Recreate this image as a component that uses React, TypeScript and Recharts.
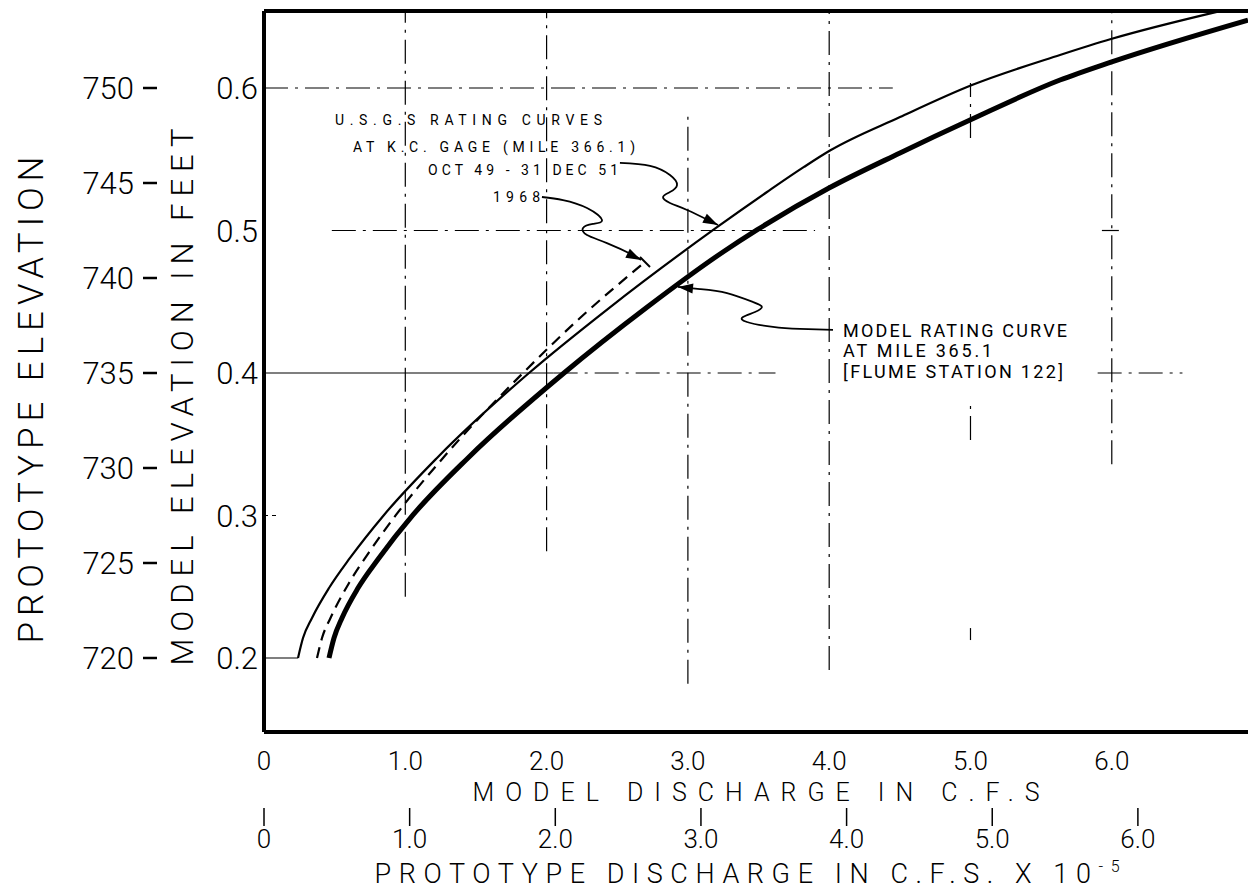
import React from 'react';
import { ComposedChart, Line, XAxis, YAxis, ReferenceLine, ReferenceDot } from 'recharts';

const FONT = "Roboto, 'DejaVu Sans', Arial, sans-serif";
const W = 1248;
const H = 891;

// ---- axes ----
const modelDischargeTicks = [0, 1, 2, 3, 4, 5, 6];
const prototypeDischargeTicks = [0, 1, 2, 3, 4, 5, 6];
const modelElevationTicks = [0.2, 0.3, 0.4, 0.5, 0.6];
const prototypeElevationTicks = [720, 725, 730, 735, 740, 745, 750];
const modelDischargeDomain = [0, 6.964];
const prototypeDischargeDomain = [0, 6.756];
const modelElevationDomain = [0.14807, 0.65404];
const prototypeElevationDomain = [716.105, 754.053];

// ---- series (model discharge cfs, model elevation ft) ----
const usgs1951Q = [0.2406, 0.276, 0.3397, 0.46, 0.6086, 0.8493, 1.2243, 1.8754, 2.4416, 3.1989, 3.5598, 3.8217, 4.0057, 4.5011, 5.0106, 5.6334, 5.9943, 6.7657];
const usgs1951H = [0.2, 0.214, 0.2281, 0.2491, 0.2702, 0.3004, 0.3404, 0.4, 0.4456, 0.5018, 0.527, 0.5446, 0.5561, 0.5796, 0.6021, 0.6232, 0.6344, 0.654];

const usgs1968Q = [0.3751, 0.4105, 0.4706, 0.6016, 0.7643, 0.9342, 1.2668, 1.833, 2.2364, 2.6964];
const usgs1968H = [0.2, 0.214, 0.2281, 0.2526, 0.2772, 0.3004, 0.3404, 0.4, 0.4386, 0.4779];

const modelQ = [0.46, 0.4954, 0.552, 0.6653, 0.8139, 1.0545, 1.4437, 2.1231, 2.7035, 3.2484, 3.489, 3.9986, 4.5011, 4.9965, 5.6334, 5.9943, 6.9639];
const modelH = [0.2, 0.214, 0.2281, 0.2491, 0.2702, 0.3004, 0.3404, 0.4, 0.4456, 0.4849, 0.5004, 0.5298, 0.5544, 0.5775, 0.6056, 0.6182, 0.6477];

// ---- leader lines of the annotations ----
const leader1951Q = [2.519, 2.732, 2.873, 2.923, 2.873, 2.824, 2.873, 2.994, 3.156, 3.213];
const leader1951H = [0.5474, 0.5453, 0.5389, 0.5319, 0.527, 0.5235, 0.5193, 0.5144, 0.5067, 0.5039];
const leader1968Q = [1.967, 2.116, 2.286, 2.392, 2.328, 2.258, 2.286, 2.427, 2.611, 2.668];
const leader1968H = [0.5235, 0.5214, 0.5158, 0.5074, 0.5046, 0.5018, 0.4968, 0.4912, 0.4828, 0.4793];
const leaderModelQ = [4.027, 3.793, 3.602, 3.418, 3.39, 3.475, 3.524, 3.461, 3.277, 3.086, 2.93];
const leaderModelH = [0.4302, 0.4309, 0.4323, 0.4358, 0.4393, 0.4428, 0.4463, 0.4498, 0.4561, 0.4589, 0.4604];

// ---- annotation texts ----
const noteTexts = ['U.S.G.S  RATING  CURVES', 'AT  K.C. GAGE (MILE 366.1)', 'OCT 49 - 31 DEC 51', '1968', 'MODEL  RATING  CURVE', 'AT  MILE  365.1', '[FLUME  STATION 122]'];
const noteQ = [0.5025, 0.63, 1.161, 1.621, 4.098, 4.098, 4.098];
const noteH = [0.574, 0.5551, 0.5389, 0.52, 0.4253, 0.4112, 0.3965];
const noteSize = [14, 14, 14, 14, 18, 18, 18];
const noteLen = [267, 282, 190, 47, 224, 149, 220];

// ---- arrow heads ----
const arrowQ = [3.213, 2.668, 2.93];
const arrowH = [0.5039, 0.4793, 0.4604];
const arrowAngle = [26.6, 26.6, 185.7];

// ---- grid segments (dash-dot drafting grid) ----
const DASHDOT = '24 7 3 7';
const hGridH = [0.6, 0.5, 0.5, 0.4, 0.4, 0.4, 0.3, 0.2];
const hGridFrom = [0, 0.48, 5.93, 0, 2.05, 5.9, 0, 0];
const hGridTo = [4.45, 3.9, 6.05, 2.05, 3.62, 6.5, 0.1, 0.2406];
const hGridDash = [DASHDOT, DASHDOT, '', '', DASHDOT, DASHDOT, '4 4', ''];
const vGridQ = [1, 2, 3, 4, 5, 5, 5, 6];
const vGridFrom = [0.243, 0.275, 0.182, 0.1916, 0.565, 0.353, 0.2126, 0.336];
const vGridTo = [0.654, 0.654, 0.581, 0.654, 0.6035, 0.381, 0.221, 0.654];

const zip = (xs: number[], ys: number[]) => xs.map((x, i) => ({ x, y: ys[i] }));
const usgs1951 = zip(usgs1951Q, usgs1951H);
const usgs1968 = zip(usgs1968Q, usgs1968H);
const model = zip(modelQ, modelH);
const leader1951 = zip(leader1951Q, leader1951H);
const leader1968 = zip(leader1968Q, leader1968H);
const leaderModel = zip(leaderModelQ, leaderModelH);

const fmt1 = (v: number) => (v === 0 ? '0' : v.toFixed(1));

const XTick = (props: any) => {
  const { x, y, payload } = props;
  return (
    <text x={x} y={y} dy="0.71em" textAnchor="middle" fontFamily={FONT} fontWeight={300} fontSize={26} fill="#000">
      {fmt1(payload.value)}
    </text>
  );
};

const YTick = (props: any) => {
  const { x, y, payload, digits } = props;
  return (
    <text x={x} y={y} dy="0.36em" textAnchor="end" fontFamily={FONT} fontWeight={300} fontSize={31} fill="#000">
      {digits ? payload.value.toFixed(digits) : String(payload.value)}
    </text>
  );
};

const arrowShape = (angle: number) => (p: any) => {
  const { cx, cy } = p;
  const a = (angle * Math.PI) / 180;
  const len = 15;
  const half = 5;
  const bx = cx - len * Math.cos(a);
  const by = cy - len * Math.sin(a);
  const px = -Math.sin(a) * half;
  const py = Math.cos(a) * half;
  return <polygon points={`${cx},${cy} ${bx + px},${by + py} ${bx - px},${by - py}`} fill="#000" />;
};

const textShape = (i: number) => (p: any) => (
  <text
    x={p.cx}
    y={p.cy}
    fontFamily={FONT}
    fontWeight={400}
    fontSize={noteSize[i]}
    textLength={noteLen[i]}
    lengthAdjust="spacing"
    fill="#000"
  >
    {noteTexts[i]}
  </text>
);

const dashedEnd = (props: any) => {
  const { cx, cy, index } = props;
  if (index !== usgs1968.length - 1) return <g key={`d${index}`} />;
  return <line key={`d${index}`} x1={cx - 5} y1={cy - 5} x2={cx + 5} y2={cy + 5} stroke="#000" strokeWidth={2} />;
};

export default function App() {
  return (
    <div style={{ position: 'fixed', left: 0, top: 0, width: W, height: H, background: '#fff' }}>
      <ComposedChart width={W} height={H} margin={{ top: 11, right: 0, bottom: 0, left: 0 }}>
        <XAxis
          xAxisId="model"
          dataKey="x"
          type="number"
          domain={modelDischargeDomain}
          ticks={modelDischargeTicks}
          allowDataOverflow
          height={76}
          axisLine={{ stroke: '#000', strokeWidth: 4 }}
          tickLine={false}
          tickSize={0}
          tickMargin={20}
          tick={<XTick />}
          label={{
            content: (lp: any) => {
              const vb = lp.viewBox;
              return (
                <text x={vb.x + vb.width / 2} y={vb.y + 69} textAnchor="middle" fontFamily={FONT} fontWeight={300} fontSize={25} textLength={567} lengthAdjust="spacing" fill="#000">
                  MODEL DISCHARGE IN C.F.S
                </text>
              );
            },
          }}
        />
        <XAxis
          xAxisId="proto"
          dataKey="x"
          type="number"
          domain={prototypeDischargeDomain}
          ticks={prototypeDischargeTicks}
          allowDataOverflow
          height={83}
          axisLine={false}
          tickLine={{ stroke: '#000', strokeWidth: 1.5 }}
          tickSize={18}
          tickMargin={4}
          tick={<XTick />}
          label={{
            content: (lp: any) => {
              const vb = lp.viewBox;
              return (
                <text x={vb.x + vb.width / 2 - 9} y={vb.y + 75} textAnchor="middle" fontFamily={FONT} fontWeight={300} fontSize={27} textLength={745} lengthAdjust="spacing" fill="#000">
                  PROTOTYPE DISCHARGE IN C.F.S. X 10
                  <tspan dy={-11} fontSize={16}>-5</tspan>
                </text>
              );
            },
          }}
        />
        <YAxis
          yAxisId="model"
          type="number"
          domain={modelElevationDomain}
          ticks={modelElevationTicks}
          allowDataOverflow
          width={107}
          axisLine={{ stroke: '#000', strokeWidth: 4 }}
          tickLine={false}
          tickSize={0}
          tickMargin={6}
          tick={<YTick digits={1} />}
          label={{
            content: (lp: any) => {
              const vb = lp.viewBox;
              const cx = vb.x + 36;
              const cy = 397;
              return (
                <text x={cx} y={cy} transform={`rotate(-90 ${cx} ${cy})`} textAnchor="middle" fontFamily={FONT} fontWeight={300} fontSize={31} textLength={537} lengthAdjust="spacing" fill="#000">
                  MODEL ELEVATION IN FEET
                </text>
              );
            },
          }}
        />
        <YAxis
          yAxisId="proto"
          type="number"
          domain={prototypeElevationDomain}
          ticks={prototypeElevationTicks}
          allowDataOverflow
          width={157}
          axisLine={false}
          tickLine={{ stroke: '#000', strokeWidth: 2.5 }}
          tickSize={14}
          tickMargin={9}
          tick={<YTick digits={0} />}
          label={{
            content: (lp: any) => {
              const vb = lp.viewBox;
              const cx = vb.x + 43;
              const cy = 400;
              return (
                <text x={cx} y={cy} transform={`rotate(-90 ${cx} ${cy})`} textAnchor="middle" fontFamily={FONT} fontWeight={300} fontSize={35} textLength={487} lengthAdjust="spacing" fill="#000">
                  PROTOTYPE ELEVATION
                </text>
              );
            },
          }}
        />

        {/* top border */}
        <ReferenceLine xAxisId="model" yAxisId="model" y={modelElevationDomain[1]} stroke="#000" strokeWidth={4} />

        {hGridH.map((h, i) => (
          <ReferenceLine
            key={`h${i}`}
            xAxisId="model"
            yAxisId="model"
            segment={[{ x: hGridFrom[i], y: h }, { x: hGridTo[i], y: h }]}
            stroke="#000"
            strokeWidth={1.2}
            strokeDasharray={hGridDash[i]}
          />
        ))}
        {vGridQ.map((q, i) => (
          <ReferenceLine
            key={`v${i}`}
            xAxisId="model"
            yAxisId="model"
            segment={[{ x: q, y: vGridFrom[i] }, { x: q, y: vGridTo[i] }]}
            stroke="#000"
            strokeWidth={1.2}
            strokeDasharray={DASHDOT}
          />
        ))}

        <Line data={usgs1951} dataKey="y" xAxisId="model" yAxisId="model" type="monotone" stroke="#000" strokeWidth={2.2} dot={false} isAnimationActive={false} />
        <Line data={usgs1968} dataKey="y" xAxisId="model" yAxisId="model" type="monotone" stroke="#000" strokeWidth={2.2} strokeDasharray="11 7" dot={dashedEnd} isAnimationActive={false} />
        <Line data={model} dataKey="y" xAxisId="model" yAxisId="model" type="monotone" stroke="#000" strokeWidth={5} dot={false} isAnimationActive={false} />

        <Line data={leader1951} dataKey="y" xAxisId="model" yAxisId="model" type="natural" stroke="#000" strokeWidth={1.8} dot={false} isAnimationActive={false} />
        <Line data={leader1968} dataKey="y" xAxisId="model" yAxisId="model" type="natural" stroke="#000" strokeWidth={1.8} dot={false} isAnimationActive={false} />
        <Line data={leaderModel} dataKey="y" xAxisId="model" yAxisId="model" type="natural" stroke="#000" strokeWidth={1.8} dot={false} isAnimationActive={false} />

        {arrowQ.map((q, i) => (
          <ReferenceDot key={`a${i}`} xAxisId="model" yAxisId="model" x={q} y={arrowH[i]} r={0} shape={arrowShape(arrowAngle[i])} />
        ))}
        {noteTexts.map((t, i) => (
          <ReferenceDot key={`t${i}`} xAxisId="model" yAxisId="model" x={noteQ[i]} y={noteH[i]} r={0} shape={textShape(i)} />
        ))}
      </ComposedChart>
    </div>
  );
}
